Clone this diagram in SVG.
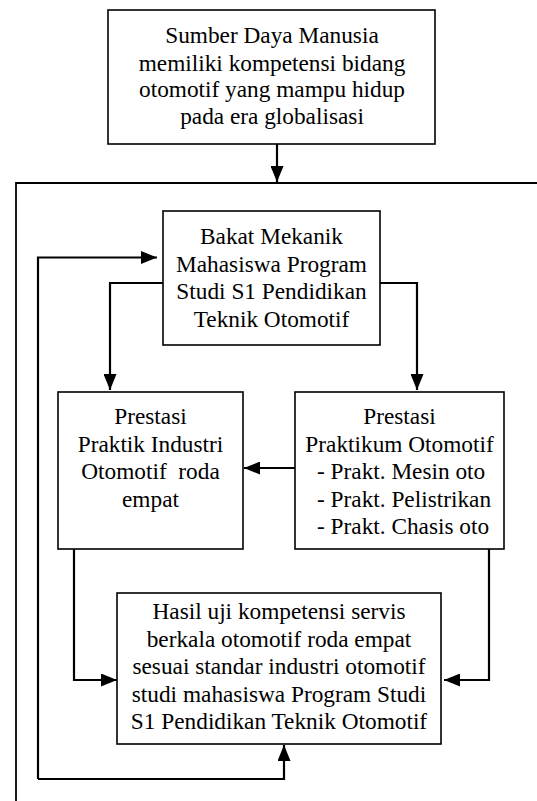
<svg xmlns="http://www.w3.org/2000/svg" width="537" height="801" viewBox="0 0 537 801">
  <style>
    .box { fill: #ffffff; stroke: #000000; stroke-width: 1.6; }
    .lbl { font-family: "Liberation Serif", "Times New Roman", serif; font-size: 23.3px; fill: #000000; }
    .mid { text-anchor: middle; }
    .wire { fill: none; stroke: #000000; stroke-width: 2.2; }
    .frame { fill: none; stroke: #000000; stroke-width: 1.8; }
  </style>
  <defs>
    <marker id="arrow" markerUnits="userSpaceOnUse" markerWidth="16" markerHeight="13" refX="16" refY="6.5" orient="auto">
      <path d="M0,0 L16,6.5 L0,13 z" fill="#000000"/>
    </marker>
  </defs>
  <rect width="537" height="801" fill="#ffffff"/>

  <!-- connectors -->
  <g id="connectors">
    <!-- outer frame -->
    <path class="frame" d="M537,183 H16 V801"/>
    <!-- goal box down to frame -->
    <path class="wire" d="M277,144 V182" marker-end="url(#arrow)"/>
    <!-- feedback loop back into Bakat -->
    <path class="wire" d="M38,779 V257.5 H157" marker-end="url(#arrow)"/>
    <!-- feedback loop from bottom box -->
    <path class="wire" d="M38,779 H284 V745" marker-end="url(#arrow)"/>
    <!-- Bakat to left Prestasi -->
    <path class="wire" d="M163,283 H110 V390" marker-end="url(#arrow)"/>
    <!-- Bakat to right Prestasi -->
    <path class="wire" d="M380,283 H417 V390" marker-end="url(#arrow)"/>
    <!-- right Prestasi to left Prestasi -->
    <path class="wire" d="M295,468 H244" marker-end="url(#arrow)"/>
    <!-- left Prestasi to Hasil -->
    <path class="wire" d="M74,549 V680 H117" marker-end="url(#arrow)"/>
    <!-- right Prestasi to Hasil -->
    <path class="wire" d="M489,549 V680 H444" marker-end="url(#arrow)"/>
  </g>

  <g id="sdm">
    <rect class="box" x="108" y="10" width="327" height="134" stroke-width="2"/>
    <text class="lbl mid" x="272" y="43">Sumber Daya Manusia</text>
    <text class="lbl mid" x="272" y="70.5">memiliki kompetensi bidang</text>
    <text class="lbl mid" x="272" y="97">otomotif yang mampu hidup</text>
    <text class="lbl mid" x="272" y="124">pada era globalisasi</text>
  </g>

  <g id="bakat">
    <rect class="box" x="163" y="211" width="217" height="134"/>
    <text class="lbl mid" x="271.5" y="244">Bakat Mekanik</text>
    <text class="lbl mid" x="271.5" y="271.5">Mahasiswa Program</text>
    <text class="lbl mid" x="271.5" y="299">Studi S1 Pendidikan</text>
    <text class="lbl mid" x="271.5" y="326.5">Teknik Otomotif</text>
  </g>

  <g id="prestasi-industri">
    <rect class="box" x="58" y="392" width="185" height="157"/>
    <text class="lbl mid" x="150.5" y="424">Prestasi</text>
    <text class="lbl mid" x="150.5" y="451.5">Praktik Industri</text>
    <text class="lbl mid" x="150.5" y="479" xml:space="preserve">Otomotif  roda</text>
    <text class="lbl mid" x="150.5" y="506.5">empat</text>
  </g>

  <g id="prestasi-praktikum">
    <rect class="box" x="295" y="392" width="209" height="157"/>
    <text class="lbl mid" x="399.5" y="424">Prestasi</text>
    <text class="lbl mid" x="399.5" y="451.5">Praktikum Otomotif</text>
    <text class="lbl" x="317" y="479">- Prakt. Mesin oto</text>
    <text class="lbl" x="317" y="506.5">- Prakt. Pelistrikan</text>
    <text class="lbl" x="317" y="534">- Prakt. Chasis oto</text>
  </g>

  <g id="hasil">
    <rect class="box" x="117" y="593" width="324" height="151"/>
    <text class="lbl mid" x="279" y="619">Hasil uji kompetensi servis</text>
    <text class="lbl mid" x="279" y="646.5">berkala otomotif roda empat</text>
    <text class="lbl mid" x="279" y="674">sesuai standar industri otomotif</text>
    <text class="lbl mid" x="279" y="701.5">studi mahasiswa Program Studi</text>
    <text class="lbl mid" x="279" y="729">S1 Pendidikan Teknik Otomotif</text>
  </g>
</svg>
